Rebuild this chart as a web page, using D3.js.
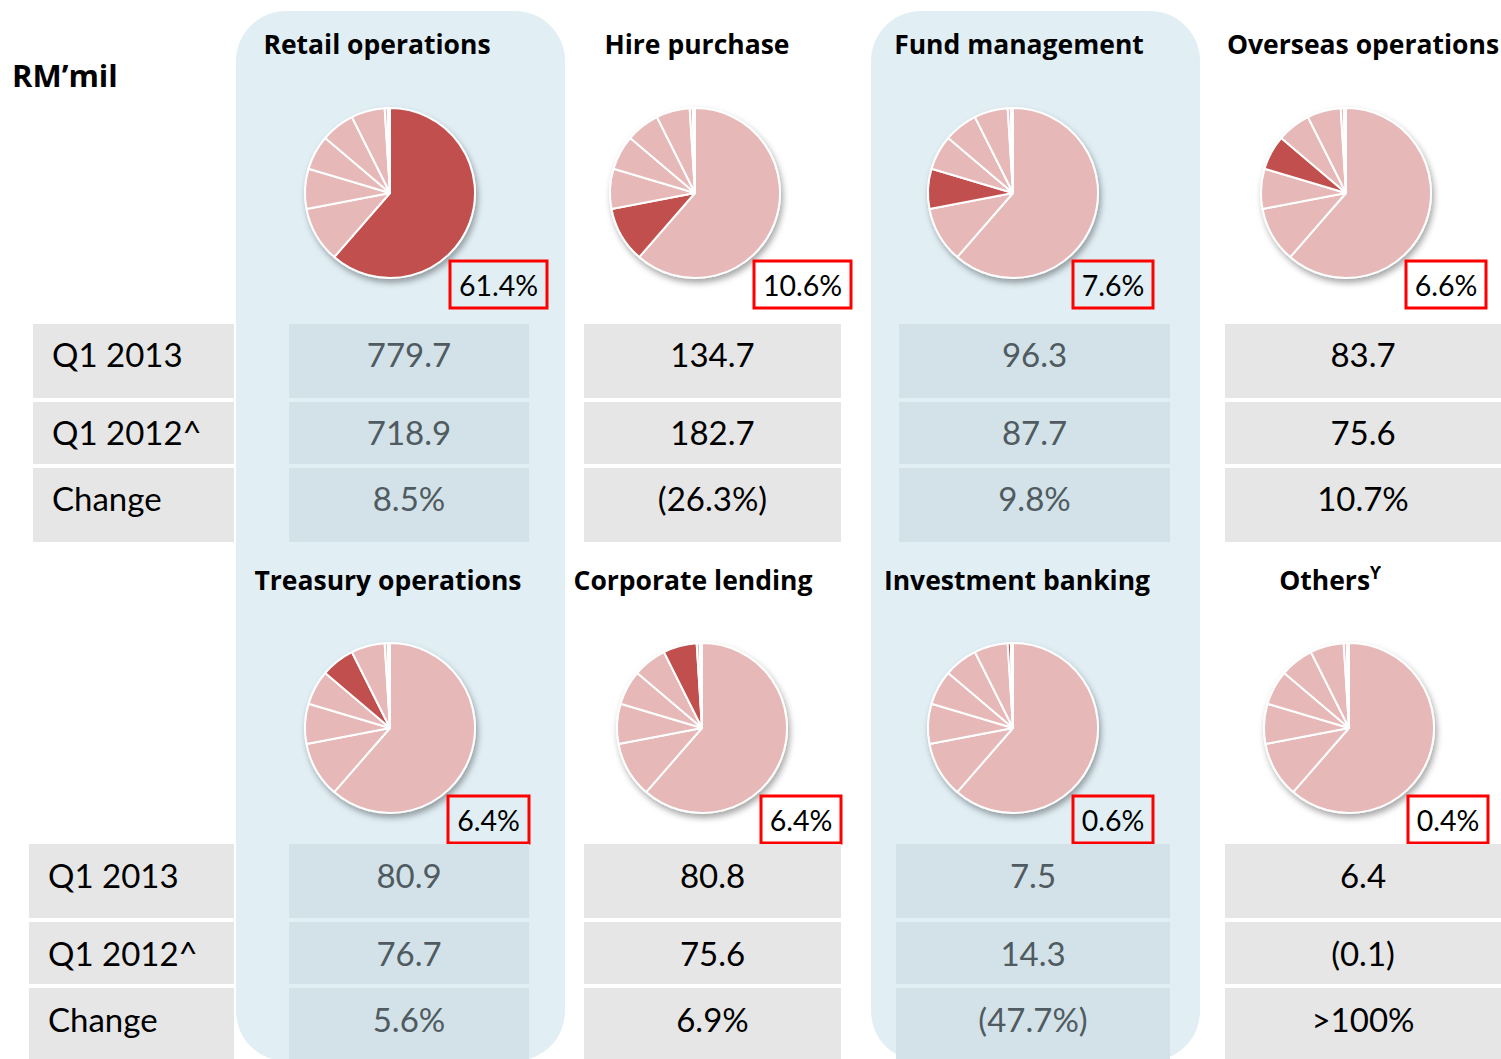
<!DOCTYPE html>
<html>
<head>
<meta charset="utf-8">
<script src="https://cdn.jsdelivr.net/npm/d3@7"></script>
<style>
  body { margin: 0; background: #fff; }
  svg { display: block; }
</style>
</head>
<body>
<svg id="chart" width="1501" height="1059"></svg>
<script>
// segment data
const segments = ['Retail operations', 'Hire purchase', 'Fund management', 'Overseas operations',
  'Treasury operations', 'Corporate lending', 'Investment banking', 'Others']
const shares = [61.4, 10.6, 7.6, 6.6, 6.4, 6.4, 0.6, 0.4]
const rowLabels = ['Q1 2013', 'Q1 2012^', 'Change']
const q12013 = ['779.7', '134.7', '96.3', '83.7', '80.9', '80.8', '7.5', '6.4']
const q12012 = ['718.9', '182.7', '87.7', '75.6', '76.7', '75.6', '14.3', '(0.1)']
const changes = ['8.5%', '(26.3%)', '9.8%', '10.7%', '5.6%', '6.9%', '(47.7%)', '>100%']

const H = 1059
const svg = d3.select('#chart')

const dark = '#c0504d'
const light = '#e6b8b7'
const blueBg = '#e1eff5'
const blueCell = '#d3e2e8'
const greyCell = '#e6e6e6'
const titleFont = '"Open Sans", sans-serif'
const bodyFont = 'Lato, sans-serif'

// layout of the two blocks (top: segments 0-3, bottom: 4-7)
const blocks = [
  { titleY: 54, pieY: 193, rows: [[324, 398], [402, 464], [468, 542]], labelX0: 33, labelX: 52, textDy: 43,
    cells: [[289, 529], [584, 841], [899, 1170], [1225, 1501]],
    pieX: [390, 695, 1013, 1346], titleX: [377, 697, 1019, 1363],
    box: [[450, 547], [754, 851], [1073, 1153], [1406, 1486]], boxY: 261 },
  { titleY: 590, pieY: 728, rows: [[844, 918], [922, 984], [988, 1062]], labelX0: 29, labelX: 48, textDy: 44,
    cells: [[289, 529], [584, 841], [896, 1170], [1225, 1501]],
    pieX: [390, 702, 1013, 1349], titleX: [388, 693, 1017, 1330],
    box: [[448, 529], [761, 841], [1073, 1153], [1408, 1488]], boxY: 796 },
]
const blueCols = [0, 2]
const panels = [[236, 565], [871, 1200]]

const defs = svg.append('defs')
const shadow = defs.append('filter').attr('id', 'pieShadow')
  .attr('x', '-20%').attr('y', '-20%').attr('width', '150%').attr('height', '150%')
shadow.append('feDropShadow')
  .attr('dx', 2).attr('dy', 4).attr('stdDeviation', 3)
  .attr('flood-color', '#000').attr('flood-opacity', 0.35)

// blue column panels
svg.append('g').selectAll('rect').data(panels).enter().append('rect')
  .attr('x', d => d[0]).attr('y', 11)
  .attr('width', d => d[1] - d[0]).attr('height', H + 2 - 11)
  .attr('rx', 50).attr('ry', 50)
  .attr('fill', blueBg)

svg.append('text')
  .attr('x', 12).attr('y', 87)
  .attr('font-family', titleFont).attr('font-weight', 700).attr('font-size', 31)
  .text('RM’mil')

const pie = d3.pie().sort(null).value(d => d)
const arc = d3.arc().innerRadius(0).outerRadius(85)
const rowValues = [q12013, q12012, changes]

blocks.forEach((b, bi) => {
  const g = svg.append('g')

  // row label cells
  b.rows.forEach((r, ri) => {
    g.append('rect')
      .attr('x', b.labelX0).attr('y', r[0])
      .attr('width', 234 - b.labelX0).attr('height', r[1] - r[0])
      .attr('fill', greyCell)
    g.append('text')
      .attr('x', b.labelX).attr('y', r[0] + b.textDy)
      .attr('font-family', bodyFont).attr('font-size', 33)
      .attr('fill', '#000')
      .text(rowLabels[ri])
  })

  for (let c = 0; c < 4; c++) {
    const i = bi * 4 + c
    const isBlue = blueCols.includes(c)
    const cx = b.pieX[c]

    // title
    const t = g.append('text')
      .attr('x', b.titleX[c]).attr('y', b.titleY)
      .attr('text-anchor', 'middle')
      .attr('font-family', titleFont).attr('font-weight', 700).attr('font-size', 26.5)
      .attr('fill', '#000')
      .text(segments[i])
    if (segments[i] === 'Others') {
      t.append('tspan').attr('font-size', 17).attr('dy', -11).text('ϒ')
    }

    // pie
    const p = g.append('g')
      .attr('transform', `translate(${cx},${b.pieY})`)
      .attr('filter', 'url(#pieShadow)')
    p.selectAll('path').data(pie(shares)).enter().append('path')
      .attr('d', arc)
      .attr('fill', (d, k) => (k === i ? dark : light))
      .attr('stroke', '#fff')
      .attr('stroke-width', 2)
      .attr('stroke-linejoin', 'round')

    // share box
    const bx = b.box[c]
    g.append('rect')
      .attr('x', bx[0]).attr('y', b.boxY)
      .attr('width', bx[1] - bx[0]).attr('height', 47)
      .attr('fill', isBlue ? blueBg : '#fff')
      .attr('stroke', '#ff0000').attr('stroke-width', 3)
    g.append('text')
      .attr('x', (bx[0] + bx[1]) / 2).attr('y', b.boxY + 35)
      .attr('text-anchor', 'middle')
      .attr('font-family', bodyFont).attr('font-size', 28.5)
      .attr('fill', '#000')
      .text(d3.format('.1f')(shares[i]) + '%')

    // value cells
    const cell = b.cells[c]
    b.rows.forEach((r, ri) => {
      g.append('rect')
        .attr('x', cell[0]).attr('y', r[0])
        .attr('width', cell[1] - cell[0]).attr('height', r[1] - r[0])
        .attr('fill', isBlue ? blueCell : greyCell)
      g.append('text')
        .attr('x', (cell[0] + cell[1]) / 2).attr('y', r[0] + b.textDy)
        .attr('text-anchor', 'middle')
        .attr('font-family', bodyFont).attr('font-size', 33)
        .attr('fill', isBlue ? '#4f5b60' : '#000')
        .text(rowValues[ri][i])
    })
  }
})
</script>
</body>
</html>
